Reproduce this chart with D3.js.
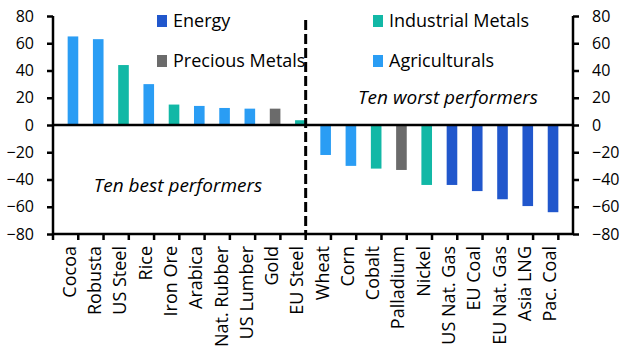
<!DOCTYPE html>
<html>
<head>
<meta charset="utf-8">
<script src="https://cdn.jsdelivr.net/npm/d3@7"></script>
<style>
  body { margin: 0; background: #fff; }
  svg text { font-family: "Open Sans", sans-serif; fill: #000; }
</style>
</head>
<body>
<div id="chart"></div>
<script>
  const categories = ['Cocoa', 'Robusta', 'US Steel', 'Rice', 'Iron Ore', 'Arabica', 'Nat. Rubber', 'US Lumber', 'Gold', 'EU Steel',
    'Wheat', 'Corn', 'Cobalt', 'Palladium', 'Nickel', 'US Nat. Gas', 'EU Coal', 'EU Nat. Gas', 'Asia LNG', 'Pac. Coal'];
  const values = [65, 63, 44, 30, 15, 14, 12.5, 12, 12, 3.5,
    -22, -30, -32, -33, -44, -44, -48.5, -54.5, -59.5, -64];
  const groups = ['Agri', 'Agri', 'Ind', 'Agri', 'Ind', 'Agri', 'Agri', 'Agri', 'Prec', 'Ind',
    'Agri', 'Agri', 'Ind', 'Prec', 'Ind', 'Energy', 'Energy', 'Energy', 'Energy', 'Energy'];
  const legendKeys = ['Energy', 'Prec', 'Ind', 'Agri'];
  const legendLabels = ['Energy', 'Precious Metals', 'Industrial Metals', 'Agriculturals'];
  const yTicks = [-80, -60, -40, -20, 0, 20, 40, 60, 80];

  const COLORS = { Energy: '#2157cc', Prec: '#6b6b6b', Ind: '#12b8a6', Agri: '#2a9df4' };

  const width = 630;
  const height = 354;
  const margin = { top: 16, right: 57, bottom: 120, left: 53 };

  const svg = d3.select('#chart').append('svg')
    .attr('width', width)
    .attr('height', height);

  const x = d3.scaleBand().domain(categories).range([margin.left, width - margin.right]).padding(0.58);
  const y = d3.scaleLinear().domain([-80, 80]).range([height - margin.bottom, margin.top]);
  const color = d3.scaleOrdinal().domain(Object.keys(COLORS)).range(Object.values(COLORS));

  // bars
  svg.selectAll('.bar')
    .data(categories)
    .enter()
    .append('rect')
    .attr('class', 'bar')
    .attr('x', (d) => x(d))
    .attr('y', (d, i) => y(Math.max(0, values[i])))
    .attr('width', x.bandwidth())
    .attr('height', (d, i) => Math.abs(y(values[i]) - y(0)))
    .attr('fill', (d, i) => color(groups[i]));

  // left and right axes
  const leftAxis = svg.append('g')
    .attr('transform', `translate(${margin.left},0)`)
    .call(d3.axisLeft(y).tickValues(yTicks).tickSize(6).tickPadding(13));
  const rightAxis = svg.append('g')
    .attr('transform', `translate(${width - margin.right},0)`)
    .call(d3.axisRight(y).tickValues(yTicks).tickSize(6).tickPadding(13));
  [leftAxis, rightAxis].forEach((g) => {
    g.select('.domain').attr('stroke-width', 2.5).attr('d', `M0,${y(80)}V${y(-80)}`);
    g.selectAll('.tick line').attr('stroke-width', 2.5);
    g.selectAll('.tick text').style('font-size', '16px');
  });

  // bottom axis with ticks at band boundaries
  const bottom = svg.append('g')
    .attr('transform', `translate(0,${y(-80)})`);
  bottom.append('line')
    .attr('x1', margin.left).attr('x2', width - margin.right)
    .attr('stroke', '#000').attr('stroke-width', 2.5);
  const step = x.step();
  const bounds = d3.range(categories.length + 1).map((i) => x.range()[0] + i * step);
  bottom.selectAll('.xtick')
    .data(bounds)
    .enter()
    .append('line')
    .attr('x1', (d) => d).attr('x2', (d) => d)
    .attr('y1', 0).attr('y2', 6)
    .attr('stroke', '#000').attr('stroke-width', 2.5);
  bottom.selectAll('.xlabel')
    .data(categories)
    .enter()
    .append('text')
    .attr('transform', (d) => `translate(${x(d) + x.bandwidth() / 2 + 3},12) rotate(-90)`)
    .attr('text-anchor', 'end')
    .style('font-size', '18px')
    .text((d) => d);

  // zero line
  svg.append('line')
    .attr('x1', margin.left).attr('x2', width - margin.right)
    .attr('y1', y(0)).attr('y2', y(0))
    .attr('stroke', '#000').attr('stroke-width', 2.5);

  // divider
  const mid = x.range()[0] + 10 * step;
  svg.append('line')
    .attr('x1', mid).attr('x2', mid)
    .attr('y1', y(77)).attr('y2', y(-80))
    .attr('stroke', '#000').attr('stroke-width', 3)
    .attr('stroke-dasharray', '10,4');

  // legend
  const legendPos = [[157, 21], [157, 61], [373, 21], [373, 61]];
  legendKeys.forEach((k, i) => {
    const [lx, ly] = legendPos[i];
    svg.append('rect')
      .attr('x', lx).attr('y', ly - 6)
      .attr('width', 10).attr('height', 12)
      .attr('fill', COLORS[k]);
    svg.append('text')
      .attr('x', lx + 16).attr('y', ly)
      .attr('dy', '0.35em')
      .style('font-size', '18px')
      .text(legendLabels[i]);
  });

  // annotations
  svg.append('text')
    .attr('x', 178).attr('y', y(-44)).attr('dy', '0.35em')
    .attr('text-anchor', 'middle')
    .style('font-size', '19px').style('font-style', 'italic')
    .text('Ten best performers');
  svg.append('text')
    .attr('x', 448).attr('y', y(20.5)).attr('dy', '0.35em')
    .attr('text-anchor', 'middle')
    .style('font-size', '19px').style('font-style', 'italic')
    .text('Ten worst performers');
</script>
</body>
</html>
